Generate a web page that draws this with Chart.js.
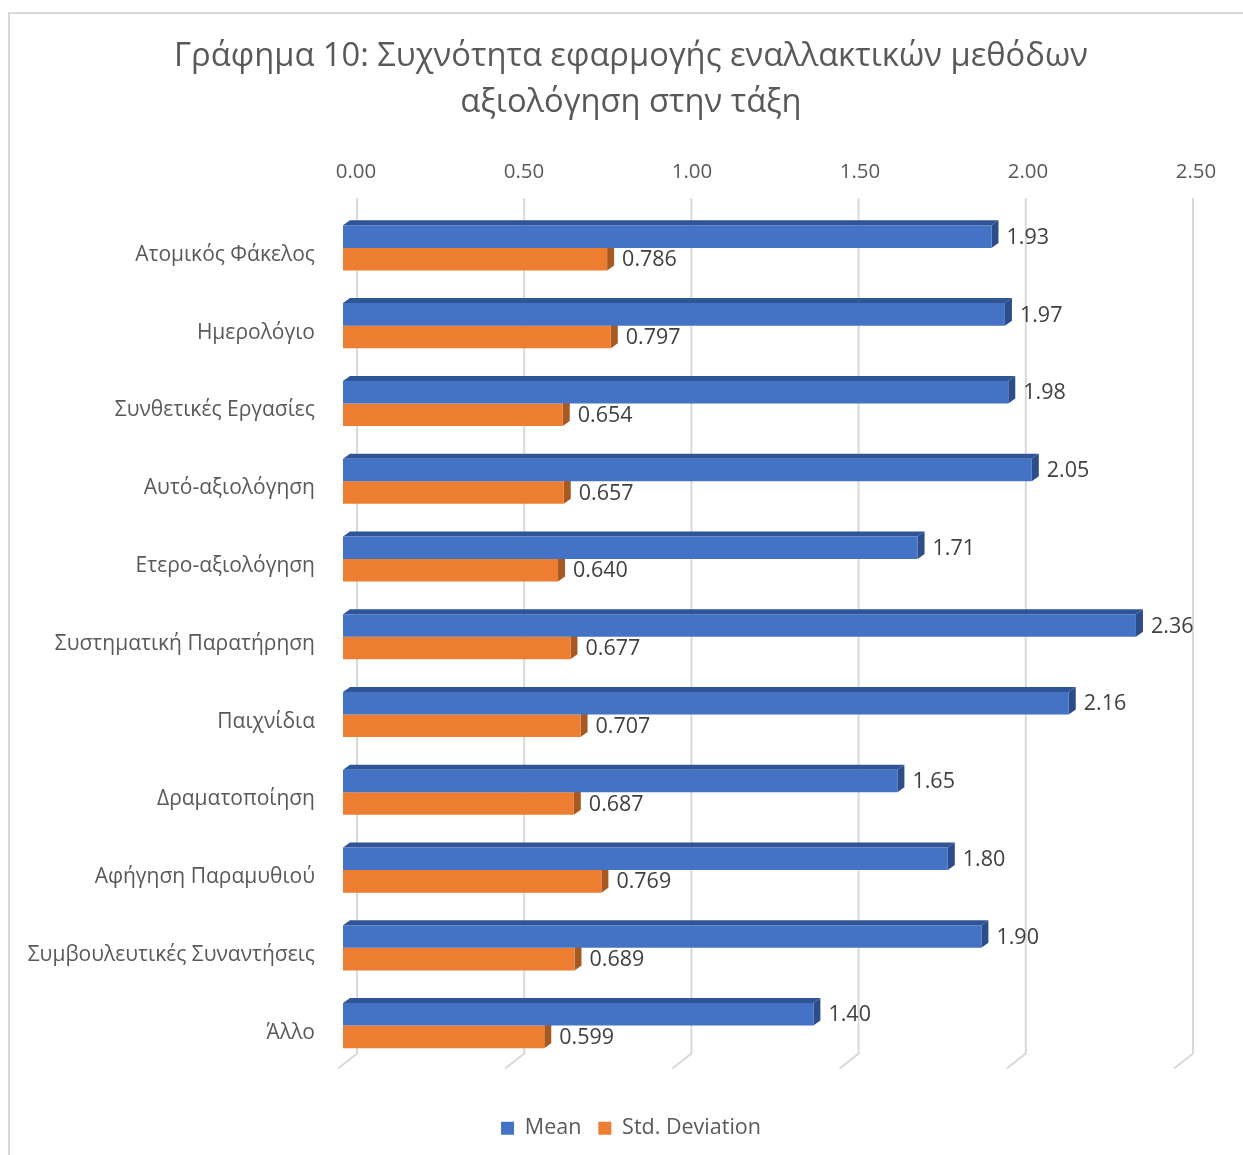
<!DOCTYPE html>
<html>
<head>
<meta charset="utf-8">
<script src="https://cdn.jsdelivr.net/npm/chart.js@4.4.1/dist/chart.umd.min.js"></script>
<style>
  html, body { margin: 0; padding: 0; background: #fff; }
  #wrap { width: 1243px; height: 1155px; position: relative; }
</style>
</head>
<body>
<div id="wrap"><canvas id="barChart" width="1243" height="1155"></canvas></div>
<script>
const categories = [
    'Ατομικός Φάκελος',
    'Ημερολόγιο',
    'Συνθετικές Εργασίες',
    'Αυτό-αξιολόγηση',
    'Ετερο-αξιολόγηση',
    'Συστηματική Παρατήρηση',
    'Παιχνίδια',
    'Δραματοποίηση',
    'Αφήγηση Παραμυθιού',
    'Συμβουλευτικές Συναντήσεις',
    'Άλλο'
];
const meanValues = [1.93, 1.97, 1.98, 2.05, 1.71, 2.36, 2.16, 1.65, 1.80, 1.90, 1.40];
const stdValues = [0.786, 0.797, 0.654, 0.657, 0.640, 0.677, 0.707, 0.687, 0.769, 0.689, 0.599];
const tickValues = [0, 0.5, 1, 1.5, 2, 2.5];
const titleLines = ['Γράφημα 10: Συχνότητα εφαρμογής εναλλακτικών μεθόδων', 'αξιολόγηση στην τάξη'];

const FONT = '"Open Sans", "Noto Sans", sans-serif';
const TEXT = '#595959';

// faces of the 3d bars: [front, top, side]
const shades = [
    ['#4472C4', '#2F5597', '#2C4C8A'],
    ['#ED7D31', '#C0621F', '#A65A22']
];
const digits = [2, 3];
const DX = 7, DY = -5;

// frame, back-wall gridlines with the floor slant, bar depth and value labels
const backdrop = {
    id: 'backdrop',
    beforeDraw(chart) {
        const ctx = chart.ctx;
        ctx.save();
        ctx.strokeStyle = '#d9d9d9';
        ctx.lineWidth = 2;
        ctx.beginPath();
        ctx.moveTo(9, 1160);
        ctx.lineTo(9, 13);
        ctx.lineTo(1250, 13);
        ctx.stroke();

        const x = chart.scales.x, area = chart.chartArea;
        const bend = area.bottom - 11;
        tickValues.forEach(v => {
            const bx = x.getPixelForValue(v) + 14 - 4 * v / 2.5;
            ctx.beginPath();
            ctx.moveTo(bx, 198);
            ctx.lineTo(bx, bend);
            ctx.lineTo(bx - 19, bend + 15);
            ctx.stroke();
        });
        ctx.restore();
    },
    beforeDatasetsDraw(chart) {
        const ctx = chart.ctx;
        ctx.save();
        chart.data.datasets.forEach((ds, di) => {
            chart.getDatasetMeta(di).data.forEach(bar => {
                const top = bar.y - bar.height / 2, bottom = bar.y + bar.height / 2;
                if (di === 0) {
                    ctx.fillStyle = shades[di][1];
                    ctx.beginPath();
                    ctx.moveTo(bar.base, top);
                    ctx.lineTo(bar.base + DX, top + DY);
                    ctx.lineTo(bar.x + DX, top + DY);
                    ctx.lineTo(bar.x, top);
                    ctx.closePath();
                    ctx.fill();
                }
                ctx.fillStyle = shades[di][2];
                ctx.beginPath();
                ctx.moveTo(bar.x, top);
                ctx.lineTo(bar.x + DX, top + DY);
                ctx.lineTo(bar.x + DX, bottom + DY);
                ctx.lineTo(bar.x, bottom);
                ctx.closePath();
                ctx.fill();
            });
        });
        ctx.restore();
    },
    afterDatasetsDraw(chart) {
        const ctx = chart.ctx;
        ctx.save();
        ctx.font = '21.5px ' + FONT;
        ctx.fillStyle = '#404040';
        ctx.textAlign = 'left';
        ctx.textBaseline = 'middle';
        chart.data.datasets.forEach((ds, di) => {
            chart.getDatasetMeta(di).data.forEach((bar, i) => {
                ctx.fillText(ds.data[i].toFixed(digits[di]), bar.x + DX + 8, bar.y + 1);
            });
        });
        ctx.restore();
    }
};

// empty axes that only reserve room (right margin, floor under the bars)
const spacer = () => ({
    display: true,
    ticks: { display: false },
    grid: { display: false, drawTicks: false },
    border: { display: false }
});

new Chart(document.getElementById('barChart'), {
    type: 'bar',
    data: {
        labels: categories,
        datasets: [{
            label: 'Mean',
            data: meanValues,
            backgroundColor: shades[0][0],
            barPercentage: 1,
            categoryPercentage: 0.58
        }, {
            label: 'Std. Deviation',
            data: stdValues,
            backgroundColor: shades[1][0],
            barPercentage: 1,
            categoryPercentage: 0.58
        }]
    },
    options: {
        indexAxis: 'y',
        responsive: false,
        animation: false,
        layout: { padding: { left: 19, right: 0, top: 0, bottom: 6 } },
        plugins: {
            title: {
                display: true,
                text: titleLines,
                color: TEXT,
                font: { family: FONT, size: 32.7, weight: 'normal', lineHeight: 1.407 },
                padding: { top: 34, bottom: 0 }
            },
            legend: {
                position: 'bottom',
                labels: {
                    color: TEXT,
                    font: { family: FONT, size: 21.5 },
                    boxWidth: 13,
                    boxHeight: 13,
                    padding: 17
                }
            },
            tooltip: { enabled: false }
        },
        scales: {
            x: {
                position: 'top',
                min: 0,
                max: 2.5,
                ticks: {
                    stepSize: 0.5,
                    color: TEXT,
                    font: { family: FONT, size: 20.5 },
                    padding: 25,
                    labelOffset: 13,
                    callback: v => Number(v).toFixed(2)
                },
                grid: { display: false, drawTicks: false },
                border: { display: false },
                afterFit(scale) { scale.height = 83; }
            },
            y: {
                ticks: {
                    color: TEXT,
                    font: { family: FONT, size: 21 },
                    padding: 28,
                    labelOffset: 7
                },
                grid: { display: false, drawTicks: false },
                border: { display: false },
                afterFit(scale) { scale.width = 324; }
            },
            floor: Object.assign(spacer(), {
                type: 'linear',
                position: 'bottom',
                axis: 'x',
                afterFit(scale) { scale.height = 36; }
            }),
            side: Object.assign(spacer(), {
                type: 'category',
                position: 'right',
                axis: 'y',
                afterFit(scale) { scale.width = 60; }
            })
        }
    },
    plugins: [backdrop]
});
</script>
</body>
</html>
